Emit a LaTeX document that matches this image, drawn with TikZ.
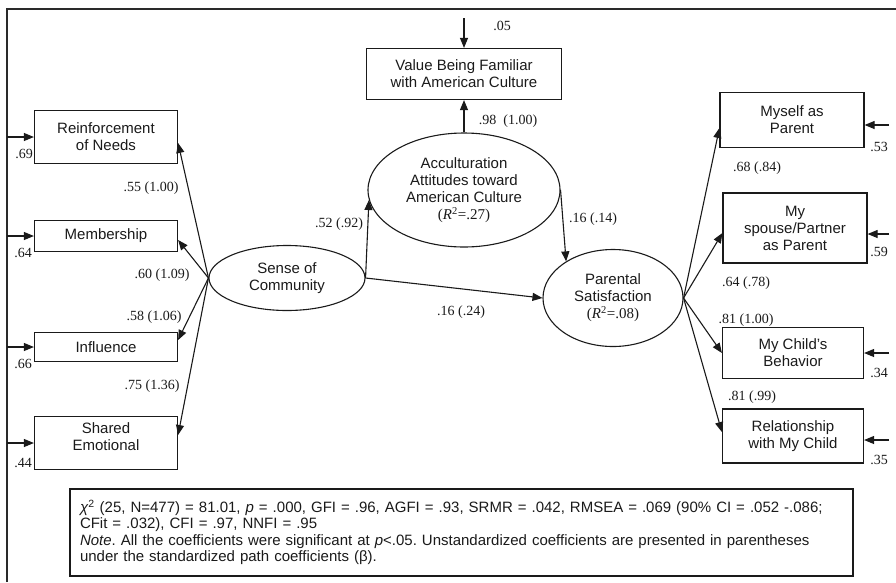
\documentclass[tikz,border=0pt]{standalone}
\usepackage{fontspec}
\setmainfont{Liberation Serif}
\setsansfont{Liberation Sans}
\usepackage{tikz}
\usetikzlibrary{shapes.geometric, arrows.meta, calc}
\definecolor{inkblack}{HTML}{1a1a1a}
\definecolor{framegray}{HTML}{2a2a2a}
\tikzstyle{obsbox} = [rectangle, draw=inkblack, line width=1.2pt, inner sep=0pt,
  align=center, font=\sffamily\fontsize{15}{17}\selectfont, text=inkblack]
\tikzstyle{latent} = [ellipse, draw=inkblack, line width=1.1pt, inner sep=0pt,
  align=center, font=\sffamily\fontsize{15}{17}\selectfont, text=inkblack]
\tikzstyle{arrow} = [line width=1.1pt, draw=inkblack, -{Triangle[length=10pt,width=8pt]}]
\tikzstyle{coef} = [font=\rmfamily\fontsize{14}{16}\selectfont, text=inkblack, inner sep=0pt]
\tikzstyle{notebox} = [rectangle, draw=inkblack, line width=1.3pt, inner sep=0pt,
  minimum width=783pt, minimum height=87pt, text width=763pt, align=left,
  font=\sffamily\fontsize{15}{16.5}\selectfont, text=inkblack]

\begin{document}
\frenchspacing
\begin{tikzpicture}[x=1pt, y=-1pt]
  \useasboundingbox (0,0) rectangle (896,582);
  % outer frame (left and top only)
  \draw[framegray, line width=2pt] (7,582) -- (7,9) -- (896,9);

  % indicators of sense of community
  \node (reinf)  [obsbox, minimum width=143pt, minimum height=53pt] at (106,137) {Reinforcement\\of Needs};
  \node (memb)   [obsbox, minimum width=143pt, minimum height=31pt] at (106,236) {Membership};
  \node (infl)   [obsbox, minimum width=143pt, minimum height=29pt] at (106,347) {Influence};
  \node (shared) [obsbox, minimum width=143pt, minimum height=53pt] at (106,443) {Shared\\Emotional\\[-4pt]};

  % latent variables
  \node (scom) [latent, minimum width=156pt, minimum height=65pt] at (287,278) {Sense of\\Community};
  \node (acc)  [latent, minimum width=192pt, minimum height=114pt] at (464,190)
    {Acculturation\\Attitudes toward\\American Culture\\{\rmfamily(\textit{R}\textsuperscript{2}=.27)}};
  \node (par)  [latent, minimum width=140pt, minimum height=97pt] at (613,298)
    {Parental\\Satisfaction\\{\rmfamily(\textit{R}\textsuperscript{2}=.08)}};
  \node (value) [obsbox, minimum width=195pt, minimum height=51pt] at (464,74)
    {Value Being Familiar\\with American Culture};

  % indicators of parental satisfaction
  \node (myself) [obsbox, minimum width=144pt, minimum height=55pt] at (792,120) {Myself as\\Parent};
  \node (spouse) [obsbox, minimum width=144pt, minimum height=70pt] at (795,228) {My\\spouse/Partner\\as Parent};
  \node (child)  [obsbox, minimum width=141pt, minimum height=51pt] at (793,353) {My Child's\\Behavior};
  \node (rel)    [obsbox, minimum width=141pt, minimum height=54pt] at (793,436) {Relationship\\with My Child};

  % error terms
  \coordinate (eval) at (464,18);
  \coordinate (e1) at (7,137);
  \coordinate (e2) at (7,236);
  \coordinate (e3) at (7,347);
  \coordinate (e4) at (7,443);
  \coordinate (e5) at (889,125);
  \coordinate (e6) at (889,234);
  \coordinate (e7) at (889,353);
  \coordinate (e8) at (889,440);

  \draw[arrow] (eval) -- (value.north);
  \draw[arrow] (e1) -- (reinf.west);
  \draw[arrow] (e2) -- (memb.west);
  \draw[arrow] (e3) -- (infl.west);
  \draw[arrow] (e4) -- (shared.west);
  \draw[arrow] (e5) -- ([yshift=-5pt]myself.east);
  \draw[arrow] (e6) -- ([yshift=-6pt]spouse.east);
  \draw[arrow] (e7) -- (child.east);
  \draw[arrow] (e8) -- ([yshift=-4pt]rel.east);

  % paths
  \draw[arrow] (scom.west) -- ([yshift=-6pt]reinf.east);
  \draw[arrow] (scom.west) -- ([yshift=-4pt]memb.east);
  \draw[arrow] (scom.west) -- ([yshift=7pt]infl.east);
  \draw[arrow] (scom.west) -- ([yshift=8pt]shared.east);
  \draw[arrow] (scom.east) -- (acc.186);
  \draw[arrow] (scom.east) -- (par.west);
  \draw[arrow] (acc.north) -- (value.south);
  \draw[arrow] (acc.east) -- (par.142);
  \draw[arrow] (par.east) -- ([yshift=-8pt]myself.west);
  \draw[arrow] (par.east) -- ([yshift=-5pt]spouse.west);
  \draw[arrow] (par.east) -- (child.west);
  \draw[arrow] (par.east) -- ([yshift=4pt]rel.west);

  % coefficients
  \node[coef] at (151,188) {.55 (1.00)};
  \node[coef] at (162,275) {.60 (1.09)};
  \node[coef] at (154,317) {.58 (1.06)};
  \node[coef] at (152,386) {.75 (1.36)};
  \node[coef] at (339,224) {.52 (.92)};
  \node[coef] at (508,121) {.98\ \ (1.00)};
  \node[coef] at (502,26)  {.05};
  \node[coef] at (593,219) {.16 (.14)};
  \node[coef] at (461,312) {.16 (.24)};
  \node[coef] at (757,168) {.68 (.84)};
  \node[coef] at (746,283) {.64 (.78)};
  \node[coef] at (746,320) {.81 (1.00)};
  \node[coef] at (752,397) {.81 (.99)};
  \node[coef] at (24,154)  {.69};
  \node[coef] at (23,253)  {.64};
  \node[coef] at (23,364)  {.66};
  \node[coef] at (23,463)  {.44};
  \node[coef] at (879,147) {.53};
  \node[coef] at (879,252) {.59};
  \node[coef] at (879,373) {.34};
  \node[coef] at (879,460) {.35};

  % fit indices
  \node (note) [notebox] at (461.5,532.5)
    {\textit{χ}\textsuperscript{2} (25, N=477) = 81.01, \textit{p} = .000, GFI = .96, AGFI = .93, SRMR = .042, RMSEA = .069 (90\% CI = .052 -.086;\\
     CFit = .032), CFI = .97, NNFI = .95\\
     \textit{Note}. All the coefficients were significant at \textit{p}<.05. Unstandardized coefficients are presented in parentheses\\
     under the standardized path coefficients (β).};
\end{tikzpicture}
\end{document}
